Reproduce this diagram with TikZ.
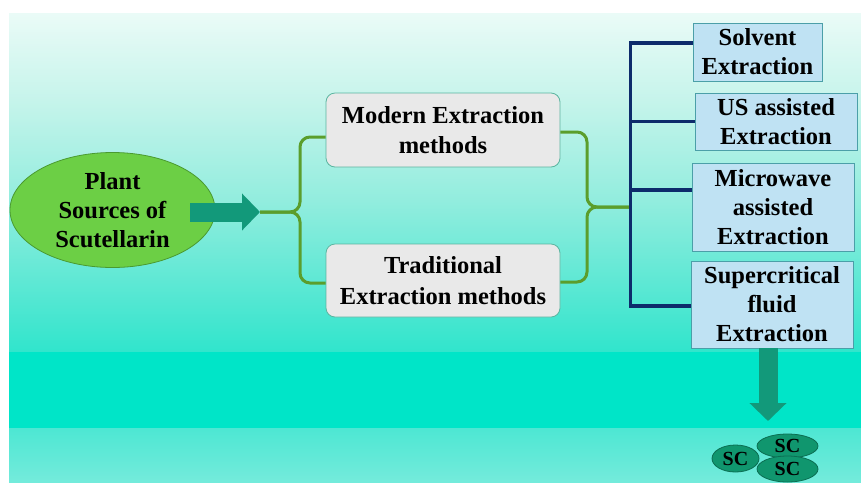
\documentclass[tikz,border=0pt]{standalone}
\usepackage{fontspec}
\setmainfont{Liberation Serif}
\usetikzlibrary{arrows.meta,calc,shapes.geometric}

\definecolor{bgA}{HTML}{EAFBF7}
\definecolor{bgB}{HTML}{C6F4EB}
\definecolor{bgC}{HTML}{92EDDE}
\definecolor{bgD}{HTML}{52E7D2}
\definecolor{bgE}{HTML}{30E5CC}
\definecolor{bgBand}{HTML}{00E5C8}
\definecolor{bgLowA}{HTML}{4DE7D3}
\definecolor{bgLowB}{HTML}{74EBDB}
\definecolor{leafgreen}{HTML}{6CCF45}
\definecolor{leafedge}{HTML}{4A9A30}
\definecolor{bracegreen}{HTML}{5B9E2C}
\definecolor{navyline}{HTML}{0D2B6B}
\definecolor{tealarrow}{HTML}{12997A}
\definecolor{scfill}{HTML}{10966E}
\definecolor{scedge}{HTML}{0B6E52}
\definecolor{greybox}{HTML}{E9E9E9}
\definecolor{greyedge}{HTML}{5AB5A0}
\definecolor{bluebox}{HTML}{BFE2F3}
\definecolor{blueedge}{HTML}{4B9FA8}

% soft top-to-bottom fade of the upper background
\pgfdeclareverticalshading{bgfade}{100bp}{%
  color(0bp)=(bgE); color(25bp)=(bgE); color(32.7bp)=(bgD);
  color(47.4bp)=(bgC); color(62.2bp)=(bgB); color(75bp)=(bgA); color(100bp)=(bgA)}

\tikzset{
  label font/.style={font=\fontsize{24.5}{29}\selectfont\bfseries},
  source/.style={ellipse, draw=leafedge, line width=0.8pt, fill=leafgreen,
    minimum width=205pt, minimum height=115pt, inner sep=0pt, align=center,
    label font},
  method/.style={rectangle, rounded corners=9pt, draw=greyedge, line width=0.8pt,
    fill=greybox, minimum width=234pt, minimum height=74pt, inner sep=0pt,
    align=center, font=\fontsize{24.5}{30.5}\selectfont\bfseries},
  technique/.style={rectangle, draw=blueedge, line width=0.8pt, fill=bluebox,
    inner sep=0pt, align=center, label font},
  sc/.style={ellipse, draw=scedge, line width=0.8pt, fill=scfill, inner sep=0pt,
    font=\fontsize{20}{22}\selectfont\bfseries},
  blockarrow/.style={draw=tealarrow, line width=19pt,
    -{Triangle[width=36pt,length=18pt,fill=tealarrow]}},
  brace/.style={draw=bracegreen, line width=3pt, rounded corners=10pt},
  tree/.style={draw=navyline, line width=3.5pt, line join=miter},
}

\begin{document}
\begin{tikzpicture}[x=1pt,y=-1pt]
\useasboundingbox (0,0) rectangle (861,491);

% background panel
\shade[shading=bgfade] (9,13) rectangle (861,352.5);
\fill[bgBand] (9,352) rectangle (861,428.5);
\shade[top color=bgLowA, bottom color=bgLowB] (9,428) rectangle (861,482);

% nodes
\node[source] (plant) at (112.5,210) {Plant\\Sources of\\Scutellarin};
\node[method, minimum width=234pt, minimum height=74pt] (modern) at (443,130)
  {Modern Extraction\\methods};
\node[method, minimum width=234pt, minimum height=73pt] (traditional) at (443,280.5)
  {Traditional\\Extraction methods};

\node[technique, minimum width=129pt, minimum height=58pt] (solvent) at (757.5,52)
  {Solvent\\Extraction};
\node[technique, minimum width=162pt, minimum height=57pt] (us) at (776,121.5)
  {US assisted\\Extraction};
\node[technique, minimum width=162pt, minimum height=88pt] (micro) at (773,207)
  {Microwave\\assisted\\Extraction};
\node[technique, minimum width=162pt, minimum height=87pt] (super) at (772,304.5)
  {Supercritical\\fluid\\Extraction};

% junction points of the braces
\coordinate (split) at (260,212);
\coordinate (lbr) at (300,212);
\coordinate (rbr) at (587,207);
\coordinate (join) at (631,207);
\coordinate (sctip) at (768,421);

% source arrow
\draw[blockarrow] ($(split -| plant.east)+(-25,0)$) -- (split);

% left brace
\draw[brace] ([yshift=-7pt]modern.west) -| (lbr) -- (split);
\draw[brace] ([yshift=-2.5pt]traditional.west) -| (lbr) -- (split);

% right brace
\draw[brace] ([yshift=-2pt]modern.east) -| (rbr) -- (join);
\draw[brace] ([yshift=-1.5pt]traditional.east) -| (rbr) -- (join);

% technique tree
\draw[tree] ([yshift=9pt]solvent.west) -- ++(-62,0) |- ([yshift=-1.5pt]super.west);
\draw[tree] (us.west) -- ++(-64,0);
\draw[tree] ([yshift=17pt]micro.west) -- ++(-61,0);

% product arrow and SC cluster
\draw[blockarrow] ([xshift=-4pt]super.south) -- (sctip);
\node[sc, minimum width=47pt, minimum height=27pt] (sc1) at (735.5,458.5) {SC};
\node[sc, minimum width=61pt, minimum height=24pt] (sc2) at (787.5,446) {SC};
\node[sc, minimum width=61pt, minimum height=26pt] (sc3) at (787.5,469) {SC};
\end{tikzpicture}
\end{document}
